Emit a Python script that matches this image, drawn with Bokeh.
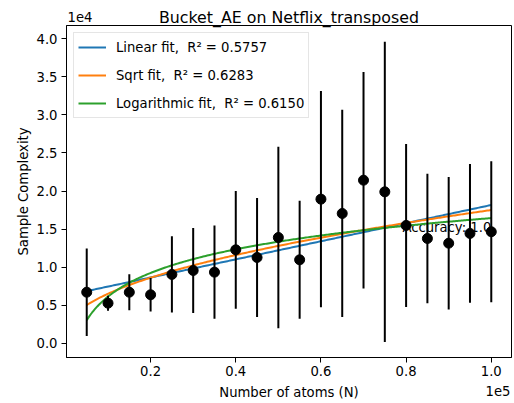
import numpy as np
from bokeh.plotting import figure
from bokeh.models import (Range1d, FixedTicker, CustomJSTickFormatter, Legend,
                          LegendItem, Label, Title, ColumnDataSource)
from bokeh.embed import file_html
from bokeh.resources import INLINE
from bokeh.core.properties import value

# Number of atoms per run
atoms = [5000, 10000, 15000, 20000, 25000, 30000, 35000, 40000, 45000, 50000,
         55000, 60000, 65000, 70000, 75000, 80000, 85000, 90000, 95000, 100000]
# Mean sample complexity and its spread
complexity_mean = [6730, 5290, 6730, 6390, 9060, 9580, 9360, 12290, 11290, 13910,
                   10980, 18940, 17060, 21430, 19900, 15490, 13780, 13160, 14440, 14660]
complexity_err = [5750, 990, 2360, 2190, 5000, 5580, 6120, 7720, 7800, 11900,
                  7750, 14200, 13600, 14200, 19700, 10700, 8500, 8700, 9100, 9250]

# Goodness of fit reported for each model
fit_names = ["Linear", "Sqrt", "Logarithmic"]
fit_r2 = [0.5757, 0.6283, 0.6150]
fit_colors = ["#1f77b4", "#ff7f0e", "#2ca02c"]

title_text = "Bucket_AE on Netflix_transposed"
x_label_text = "Number of atoms (N)"
y_label_text = "Sample Complexity"
accuracy_text = "Accuracy: 1.0"
x_scale_text = "1e5"
y_scale_text = "1e4"

x = np.array(atoms, dtype=float)
y = np.array(complexity_mean, dtype=float)
e = np.array(complexity_err, dtype=float)

# Least-squares fits y = a + b*f(x)
transforms = [lambda v: v, np.sqrt, np.log]
xs = np.linspace(x.min(), x.max(), 300)
fit_curves = []
for f in transforms:
    b, a = np.polyfit(f(x), y, 1)
    fit_curves.append(a + b * f(xs))

FONT = "DejaVu Sans"
FS = "13.2px"
FRAME_W = 514 - 66 - 3

p = figure(width=514, height=403, output_backend="svg", toolbar_location=None,
           x_range=Range1d(250, 104750), y_range=Range1d(-1840, 41730),
           min_border_left=66, min_border_right=3, min_border_top=25,
           min_border_bottom=46)
p.title.visible = False

p.xgrid.visible = False
p.ygrid.visible = False
p.outline_line_color = "black"
p.outline_line_width = 1
p.background_fill_color = "white"
p.border_fill_color = "white"

for ax in (p.xaxis[0], p.yaxis[0]):
    ax.axis_line_color = "black"
    ax.major_tick_line_color = "black"
    ax.major_tick_out = 5
    ax.major_tick_in = 0
    ax.minor_tick_line_color = None
    ax.major_label_text_font = FONT
    ax.major_label_text_font_size = FS
    ax.major_label_text_color = "black"
    ax.axis_label_text_font = FONT
    ax.axis_label_text_font_size = FS
    ax.axis_label_text_font_style = "normal"
    ax.axis_label_text_color = "black"

p.xaxis.ticker = FixedTicker(ticks=[20000, 40000, 60000, 80000, 100000])
p.xaxis.formatter = CustomJSTickFormatter(code="return (tick / 1e5).toFixed(1)")
p.xaxis.major_label_standoff = 3

p.yaxis.ticker = FixedTicker(ticks=[0, 5000, 10000, 15000, 20000, 25000, 30000, 35000, 40000])
p.yaxis.formatter = CustomJSTickFormatter(code="return (tick / 1e4).toFixed(1)")
p.yaxis.axis_label = y_label_text
p.yaxis.major_label_standoff = 4
p.yaxis.axis_label_standoff = 3


def side_label(text, sx, sy, align):
    return Label(x=sx, y=sy, x_units="screen", y_units="screen", text=text,
                 text_font=FONT, text_font_size=FS, text_baseline="middle",
                 text_align=align, text_color="black")


# Title right above the frame, the y scale factor further out in the same band
p.add_layout(Title(text=title_text, align="center", vertical_align="top",
                   standoff=-6, text_font=FONT, text_font_size="15.8px",
                   text_font_style="normal", text_color="black"), "above")
p.add_layout(side_label(y_scale_text, 1, -6.8, "left"), "above")

# Below the tick labels: the x axis title, then the x scale factor on the same row
p.add_layout(side_label(x_label_text, FRAME_W / 2, 1.5, "center"), "below")
p.add_layout(side_label(x_scale_text, FRAME_W - 1, 12.4, "right"), "below")

# Accuracy annotation sits beneath the data markers
p.text(x=[x.max()], y=[15180], text=[accuracy_text], text_align="right",
       text_baseline="alphabetic", text_font=value(FONT), text_font_size=FS,
       text_color="black")

# Fitted curves
fit_renderers = []
for curve, color in zip(fit_curves, fit_colors):
    r = p.line(xs, curve, line_color=color, line_width=2)
    fit_renderers.append(r)

# Error bars and means
src = ColumnDataSource(dict(x=x, y=y, lo=y - e, hi=y + e))
p.segment(x0="x", y0="lo", x1="x", y1="hi", source=src, line_color="black", line_width=2)
p.scatter(x="x", y="y", source=src, size=10, fill_color="black", line_color="black")

items = [LegendItem(label=f"{n} fit,  R\u00b2 = {r2:.4f}", renderers=[r])
         for n, r2, r in zip(fit_names, fit_r2, fit_renderers)]
legend = Legend(items=items, location="top_left", margin=7, padding=4,
                spacing=8, glyph_width=28, glyph_height=20, label_standoff=10,
                label_text_font=FONT, label_text_font_size=FS,
                label_text_color="black", border_line_color="#cccccc",
                background_fill_alpha=0.8)
p.add_layout(legend, "center")

open("out.html", "w").write(file_html(p, INLINE))
